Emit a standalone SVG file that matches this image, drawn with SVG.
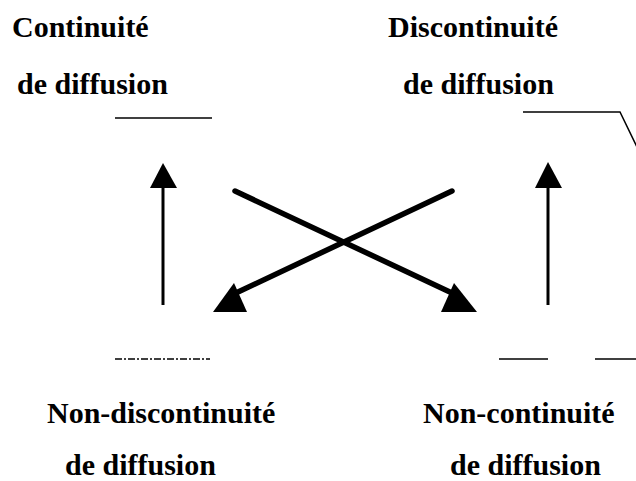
<svg xmlns="http://www.w3.org/2000/svg" width="636" height="481" viewBox="0 0 636 481">
<style>
  .lbl { font-family: "Liberation Serif", "Times New Roman", serif; font-weight: bold; font-size: 30px; fill: #000; }
  .rule { stroke: #000; stroke-width: 1.5; fill: none; }
  .thin { stroke: #000; stroke-width: 3; fill: none; }
  .thick { stroke: #000; stroke-width: 5.5; stroke-linecap: round; fill: none; }
  .head { fill: #000; stroke: none; }
</style>
<rect width="636" height="481" fill="#fff"/>
<g id="continuite">
  <text class="lbl" x="12" y="37">Continuité</text>
  <text class="lbl" x="17" y="94">de diffusion</text>
  <line class="rule" x1="115" y1="118" x2="212" y2="118"/>
</g>
<g id="discontinuite">
  <text class="lbl" x="388" y="37">Discontinuité</text>
  <text class="lbl" x="403" y="94">de diffusion</text>
  <polyline class="rule" points="523,112 620,112 637,147"/>
</g>
<g id="non-discontinuite">
  <line class="rule" x1="115" y1="359" x2="210" y2="359" stroke-dasharray="7 2 2 2"/>
  <text class="lbl" x="47" y="423">Non-discontinuité</text>
  <text class="lbl" x="65" y="475">de diffusion</text>
</g>
<g id="non-continuite">
  <line class="rule" x1="499" y1="359" x2="548" y2="359"/>
  <line class="rule" x1="595" y1="359" x2="636" y2="359"/>
  <text class="lbl" x="423" y="423">Non-continuité</text>
  <text class="lbl" x="450" y="475">de diffusion</text>
</g>
<g id="connectors">
  <line class="thin" x1="163" y1="305" x2="163" y2="185"/>
  <polygon class="head" points="163,163 150,188 177,188"/>
  <line class="thin" x1="548" y1="305" x2="548" y2="185"/>
  <polygon class="head" points="548,162 535,188 562,188"/>
  <line class="thick" x1="235" y1="191" x2="452" y2="293"/>
  <polygon class="head" points="454,283 441,312 477,312"/>
  <line class="thick" x1="452" y1="191" x2="238" y2="292"/>
  <polygon class="head" points="234,283 213,312 247,312"/>
</g>
</svg>
